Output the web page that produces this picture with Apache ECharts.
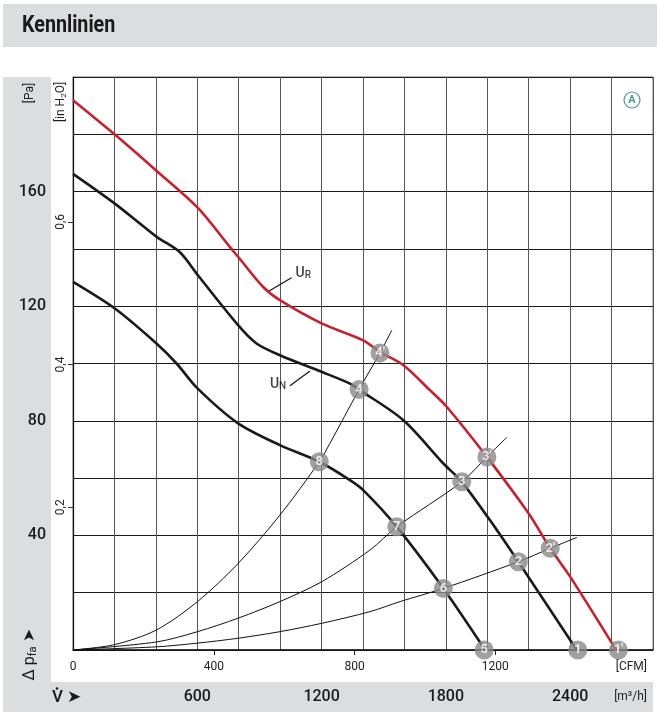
<!DOCTYPE html>
<html>
<head>
<meta charset="utf-8">
<script src="https://cdn.jsdelivr.net/npm/echarts@6/dist/echarts.min.js"></script>
<style>
html,body{margin:0;padding:0;background:#fff;}
#c{width:657px;height:716px;}
</style>
</head>
<body>
<div id="c"></div>
<script>
// ---- data (flow in m³/h, pressure in Pa) ----
const qRed = [0, 202, 404, 603, 757, 801, 918, 999, 1200, 1401, 1482, 1595, 1723, 1804, 1998, 2199, 2304, 2400, 2622];
const pRed = [191.9, 179.9, 167.2, 154.3, 140.7, 136.9, 126.7, 122.1, 114, 108.1, 104, 99.4, 90.7, 84.9, 67.4, 47.7, 35.5, 25.6, 0];

const qNom = [0, 202, 404, 515, 603, 797, 886, 999, 1200, 1337, 1381, 1595, 1788, 1877, 2046, 2150, 2432];
const pNom = [166.2, 155.8, 144.2, 138.9, 130.8, 113.4, 107, 102.9, 97.1, 93, 90.9, 80.2, 65.1, 58.7, 41.9, 30.8, 0];

const qLow = [0, 202, 403, 500, 601, 797, 999, 1189, 1337, 1401, 1563, 1788, 1990];
const pLow = [128.5, 119.2, 107, 100, 91.3, 79.1, 71.5, 65.7, 59.3, 55.8, 43, 21.5, 0];

const qSys1 = [0, 202, 403, 601, 797, 999, 1189, 1240, 1381, 1482, 1539];
const pSys1 = [0, 1.9, 7, 16.9, 30.2, 47.1, 65.7, 72.1, 90.9, 103.7, 111.6];

const qSys2 = [0, 403, 601, 797, 999, 1200, 1434, 1563, 1877, 1998, 2094];
const pSys2 = [0, 2.8, 6.4, 11.1, 16.9, 23.8, 34.9, 43, 58.7, 67.4, 74.2];

const qSys3 = [0, 403, 601, 797, 999, 1200, 1434, 1579, 1788, 2150, 2304, 2433];
const pSys3 = [0, 1.1, 2.4, 4.1, 6.4, 9.3, 13.4, 16.9, 21.5, 30.8, 35.5, 39.3];

const markerLabels = ["1", "1'", "2", "2'", "3", "3'", "4", "4'", "5", "6", "7", "8"];
const markerQ      = [2437, 2633, 2150, 2304, 1877, 1998, 1381, 1482, 1985, 1788, 1563, 1189];
const markerP      = [0, 0, 30.8, 35.5, 58.7, 67.4, 90.9, 103.7, 0, 21.5, 43, 65.7];

const flowTicks = [600, 1200, 1800, 2400];          // m³/h labels
const paTicks = [40, 80, 120, 160];                 // Pa labels
const cfmTicks = [0, 400, 800, 1200];               // CFM labels
const inh2oTicks = [0.2, 0.4, 0.6];                 // in H2O labels

// curve annotations
const labelUR = {q: 1112, p: 131.5};
const leaderUR = [[1055, 129.9], [947, 125.3]];
const labelUN = {q: 990, p: 92.8};
const leaderUN = [[1047, 92.2], [1144, 97.4]];

// ---- conversions ----
const Q_MAX = 2800, P_MAX = 200;
const CFM_MAX = Q_MAX / 1.69901;
const INH2O_MAX = P_MAX / 249.089;

const zip = (a, b) => a.map((v, i) => [v, b[i]]);
const FONT = "Roboto, 'Liberation Sans', sans-serif";
const GRAY = '#dcddde';

const chart = echarts.init(document.getElementById('c'), null, {renderer: 'canvas'});

const curve = (name, data, color, width) => ({
  type: 'line', name, data, smooth: 0.3, showSymbol: false,
  lineStyle: {color, width}, z: 3, silent: true
});

chart.setOption({
  animation: false,
  backgroundColor: '#fff',
  grid: {left: 73, top: 77, right: 4, bottom: 66, show: true, borderColor: '#777', borderWidth: 1},
  xAxis: [
    {
      type: 'value', min: 0, max: Q_MAX, interval: 200, position: 'bottom',
      axisLine: {show: true, onZero: false, lineStyle: {color: '#111', width: 1.5}},
      axisTick: {show: false},
      splitLine: {show: true, lineStyle: {color: '#555', width: 1}},
      axisLabel: {customValues: flowTicks, margin: 39, fontSize: 16, fontWeight: 500, color: '#1a1a1a', fontFamily: FONT,
        formatter: v => String(v)}
    },
    {
      type: 'value', min: 0, max: CFM_MAX, interval: 400, position: 'bottom', offset: 0,
      axisLine: {show: false},
      axisTick: {show: true, customValues: [400, 800, 1200], length: 5, lineStyle: {color: '#222'}},
      splitLine: {show: false},
      axisLabel: {customValues: cfmTicks, margin: 11, fontSize: 12, color: '#222', fontFamily: FONT,
        formatter: v => String(v)}
    }
  ],
  yAxis: [
    {
      type: 'value', min: 0, max: P_MAX, interval: 20, position: 'left',
      axisLine: {show: true, onZero: false, lineStyle: {color: '#111', width: 1.2}},
      axisTick: {show: false},
      splitLine: {show: true, lineStyle: {color: '#1a1a1a', width: 1}},
      axisLabel: {customValues: paTicks, margin: 27, fontSize: 16, fontWeight: 500, color: '#1a1a1a', fontFamily: FONT,
        formatter: v => String(v)}
    },
    {
      type: 'value', min: 0, max: INH2O_MAX, position: 'left', offset: 0,
      axisLine: {show: false},
      axisTick: {show: true, customValues: inh2oTicks, length: 5, lineStyle: {color: '#333'}},
      splitLine: {show: false},
      axisLabel: {customValues: inh2oTicks, rotate: 90, margin: 6, fontSize: 12, color: '#222', fontFamily: FONT,
        formatter: v => v.toFixed(1).replace('.', ',')}
    }
  ],
  series: [
    curve('sys1', zip(qSys1, pSys1), '#111', 1),
    curve('sys2', zip(qSys2, pSys2), '#111', 1),
    curve('sys3', zip(qSys3, pSys3), '#111', 1),
    curve('low', zip(qLow, pLow), '#1a1a1a', 2.6),
    curve('UN', zip(qNom, pNom), '#1a1a1a', 2.6),
    curve('UR', zip(qRed, pRed), '#c8202e', 2.6),
    {type: 'line', data: leaderUR, showSymbol: false, lineStyle: {color: '#111', width: 1.2}, z: 3, silent: true},
    {type: 'line', data: leaderUN, showSymbol: false, lineStyle: {color: '#111', width: 1.2}, z: 3, silent: true},
    {
      type: 'scatter', symbolSize: 0, z: 5, silent: true,
      data: [
        {value: [labelUR.q, labelUR.p], label: {formatter: 'U{s|R}'}},
        {value: [labelUN.q, labelUN.p], label: {formatter: 'U{s|N}'}}
      ],
      label: {show: true, position: 'inside', color: '#111', fontSize: 14, fontWeight: 500, fontFamily: FONT,
        rich: {s: {fontSize: 10, fontWeight: 500, fontFamily: FONT, color: '#111', padding: [5, 0, 0, 0]}}}
    },
    {
      type: 'scatter', symbol: 'circle', symbolSize: 19, z: 6, silent: true,
      itemStyle: {color: '#8a8a8a'},
      data: markerLabels.map((t, i) => ({value: [markerQ[i], markerP[i]], name: t})),
      label: {show: true, position: 'inside', formatter: p => p.name, color: '#fff', fontSize: 13,
        fontWeight: 'bold', fontFamily: FONT}
    }
  ],
  graphic: [
    {type: 'rect', z: -100, shape: {x: 3, y: 4, width: 654, height: 43}, style: {fill: GRAY}},
    {type: 'rect', z: -100, shape: {x: 3, y: 77, width: 48, height: 635}, style: {fill: GRAY}},
    {type: 'rect', z: -100, shape: {x: 3, y: 682, width: 650, height: 30}, style: {fill: GRAY}},
    {type: 'text', x: 22, y: 26, scaleX: 0.82, style: {text: 'Kennlinien', font: 'bold 24px ' + FONT, fill: '#1a1a1a', textVerticalAlign: 'middle'}},
    {type: 'text', x: 30, y: 93, rotation: Math.PI / 2, style: {text: '[Pa]', font: '12px ' + FONT, fill: '#222', textAlign: 'center', textVerticalAlign: 'middle'}},
    {type: 'text', x: 61, y: 102, rotation: Math.PI / 2, style: {
      text: '[in H{s|2}O]', font: '12px ' + FONT, fill: '#222', textAlign: 'center', textVerticalAlign: 'middle',
      rich: {s: {fontSize: 8, fontFamily: FONT, fill: '#222', padding: [5, 0, 0, 0]}}}},
    {type: 'text', x: 30, y: 655, rotation: Math.PI / 2, style: {
      text: '\u0394 p{s|fa} \u27A4', font: '16px ' + FONT, fill: '#1a1a1a', textAlign: 'center', textVerticalAlign: 'middle',
      rich: {s: {fontSize: 11, fontFamily: FONT, fill: '#1a1a1a', padding: [7, 0, 0, 0]}}}},
    {type: 'text', x: 52, y: 698, style: {text: 'V \u27A4', font: '500 17px ' + FONT, fill: '#1a1a1a', textVerticalAlign: 'middle'}},
    {type: 'circle', shape: {cx: 57, cy: 688.5, r: 1.3}, style: {fill: '#1a1a1a'}},
    {type: 'text', x: 647, y: 697, style: {text: '[m\u00B3/h]', font: '12px ' + FONT, fill: '#222', textAlign: 'right', textVerticalAlign: 'middle'}},
    {type: 'text', x: 647, y: 667, style: {text: '[CFM]', font: '12px ' + FONT, fill: '#222', textAlign: 'right', textVerticalAlign: 'middle'}},
    {type: 'circle', shape: {cx: 632, cy: 100, r: 8}, style: {fill: 'none', stroke: '#4e9a94', lineWidth: 1.2}},
    {type: 'text', x: 632, y: 100, style: {text: 'A', font: 'bold 11px ' + FONT, fill: '#4e9a94', textAlign: 'center', textVerticalAlign: 'middle'}}
  ]
});
</script>
</body>
</html>
